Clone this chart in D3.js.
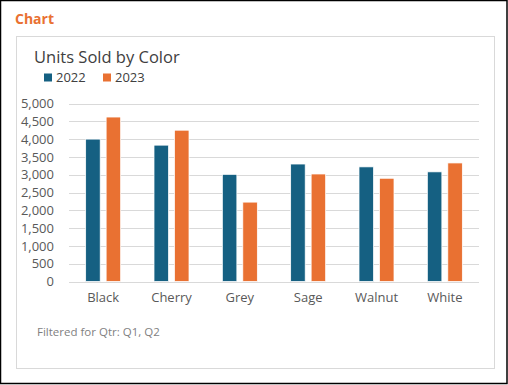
<!DOCTYPE html>
<html>
<head>
<meta charset="utf-8">
<script src="https://cdn.jsdelivr.net/npm/d3@7"></script>
<style>
  body { margin: 0; background: #fff; }
  svg { display: block; font-family: "Open Sans", "Liberation Sans", sans-serif; }
</style>
</head>
<body>
<svg id="chart"></svg>
<script>
const width = 508;
const height = 385;

// data
const colors = ['Black', 'Cherry', 'Grey', 'Sage', 'Walnut', 'White'];
const years = ['2022', '2023'];
const sold2022 = [4000, 3830, 3010, 3300, 3220, 3080];
const sold2023 = [4620, 4250, 2230, 3020, 2900, 3330];
const yTicks = [0, 500, 1000, 1500, 2000, 2500, 3000, 3500, 4000, 4500, 5000];
const seriesColors = ['#156082', '#E97132'];

const svg = d3.select('#chart')
    .attr('width', width)
    .attr('height', height);

// outer frame
svg.append('rect')
    .attr('x', 0.5).attr('y', 0.5)
    .attr('width', width - 1.5).attr('height', height - 2)
    .attr('fill', 'none').attr('stroke', '#000').attr('stroke-width', 1.5);

svg.append('text')
    .attr('x', 15).attr('y', 24)
    .attr('fill', '#E97132')
    .attr('font-size', 14).attr('font-weight', 'bold')
    .text('Chart');

// chart panel
svg.append('rect')
    .attr('x', 16.5).attr('y', 36.5)
    .attr('width', 478).attr('height', 332)
    .attr('fill', '#fff').attr('stroke', '#d9d9d9');

svg.append('text')
    .attr('x', 34).attr('y', 63)
    .attr('fill', '#404040')
    .attr('font-size', 16.5)
    .text('Units Sold by Color');

// legend
const legend = svg.append('g');
const legendX = [44, 103];
years.forEach((yr, i) => {
    legend.append('rect')
        .attr('x', legendX[i]).attr('y', 73.5)
        .attr('width', 8).attr('height', 8)
        .attr('fill', seriesColors[i]);
    legend.append('text')
        .attr('x', legendX[i] + 12).attr('y', 81.5)
        .attr('fill', '#404040')
        .attr('font-size', 13)
        .text(yr);
});

const x = d3.scaleBand().domain(colors).range([69, 479]);
const y = d3.scaleLinear().domain([0, 5000]).range([281.5, 103.5]);

// gridlines
svg.append('g').selectAll('line')
    .data(yTicks).enter().append('line')
    .attr('x1', 69).attr('x2', 479)
    .attr('y1', d => Math.round(y(d)) + 0.5)
    .attr('y2', d => Math.round(y(d)) + 0.5)
    .attr('stroke', '#d9d9d9');

const yAxis = svg.append('g')
    .attr('transform', 'translate(56, 0)')
    .call(d3.axisLeft(y).tickValues(yTicks).tickFormat(d3.format(',')).tickSize(0).tickPadding(2));
yAxis.select('.domain').remove();
yAxis.selectAll('text')
    .attr('fill', '#595959')
    .attr('font-size', 13)
    .attr('font-family', '"Open Sans", sans-serif');

const xAxis = svg.append('g')
    .attr('transform', 'translate(0, 282)')
    .call(d3.axisBottom(x).tickSize(0).tickPadding(11));
xAxis.select('.domain').remove();
xAxis.selectAll('text')
    .attr('fill', '#595959')
    .attr('font-size', 13)
    .attr('font-family', '"Open Sans", sans-serif');

// bars
const xInner = d3.scaleBand().domain(years).range([-17.5, 17.5]).paddingInner(0.29);
const rows = colors.map((c, i) => ({ color: c, values: [sold2022[i], sold2023[i]] }));

const groups = svg.append('g').selectAll('g')
    .data(rows).enter().append('g')
    .attr('transform', d => `translate(${x(d.color) + x.bandwidth() / 2}, 0)`);

groups.selectAll('rect')
    .data(d => d.values.map((v, i) => ({ year: years[i], value: v, i })))
    .enter().append('rect')
    .attr('x', d => xInner(d.year))
    .attr('y', d => y(d.value))
    .attr('width', xInner.bandwidth())
    .attr('height', d => y(0) - y(d.value))
    .attr('fill', d => seriesColors[d.i])
    .attr('stroke', '#fff')
    .attr('stroke-width', 0.75);

svg.append('text')
    .attr('x', 37).attr('y', 336)
    .attr('fill', '#7f7f7f')
    .attr('font-size', 11.5)
    .text('Filtered for Qtr: Q1, Q2');
</script>
</body>
</html>
